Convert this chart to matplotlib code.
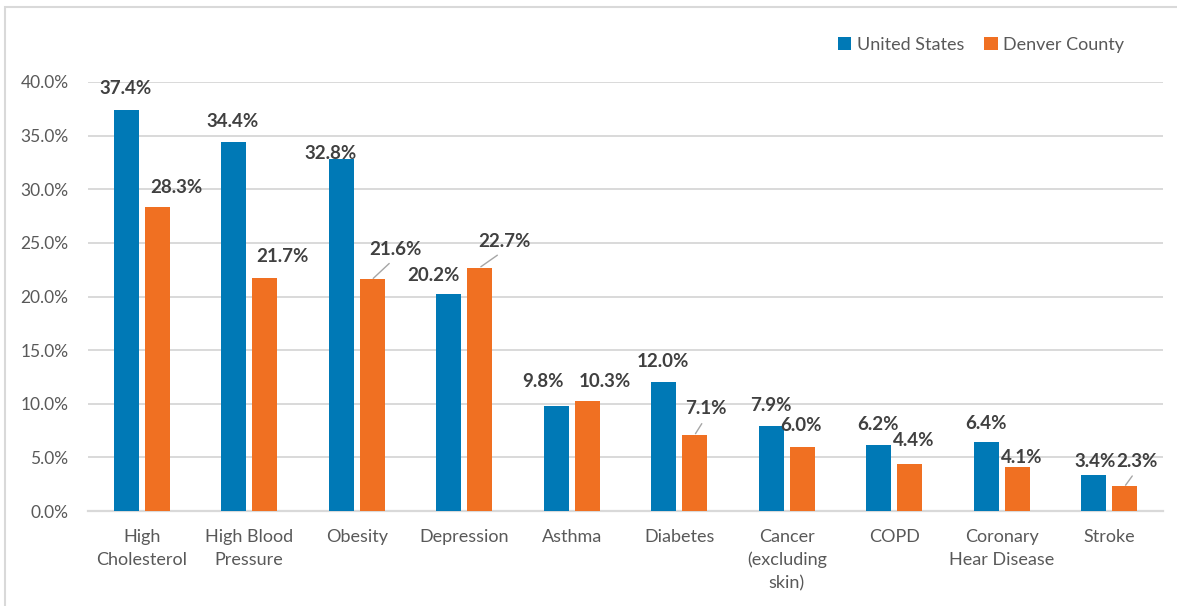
import matplotlib.pyplot as plt
from matplotlib.patches import Rectangle
import numpy as np

plt.rcParams['font.family'] = ['Lato', 'DejaVu Sans']

categories = ['High\nCholesterol', 'High Blood\nPressure', 'Obesity', 'Depression',
              'Asthma', 'Diabetes', 'Cancer\n(excluding\nskin)', 'COPD',
              'Coronary\nHear Disease', 'Stroke']
united_states = [37.4, 34.4, 32.8, 20.2, 9.8, 12.0, 7.9, 6.2, 6.4, 3.4]
denver_county = [28.3, 21.7, 21.6, 22.7, 10.3, 7.1, 6.0, 4.4, 4.1, 2.3]

blue = '#0079B6'
orange = '#F07022'
grid_col = '#D9D9D9'
tick_col = '#595959'
label_col = '#404040'

# label placement (pixel offsets from the top centre of each bar)
us_offsets = [(-1, 21), (-1, 21), (-11, 6), (-15, 19), (-13, 24),
              (-1, 21), (0, 21), (-1, 20), (0, 19), (1, 13)]
dc_offsets = [(19, 20), (18, 22), (23, 30), (25, 26), (18, 19),
              (11, 26), (-1, 21), (4, 23), (4, 10), (12, 25)]
dc_leader = [False, False, True, True, False, True, False, False, False, True]

W, H = 1177, 606
fig = plt.figure(figsize=(W / 100, H / 100), dpi=100)
ax = fig.add_axes([88 / W, (H - 511) / H, (1163 - 88) / W, (511 - 82) / H])

# thin frame round the chart area
fig.add_artist(Rectangle((5 / W, -0.05), 1.2, 1 - 7 / H + 0.05, transform=fig.transFigure,
                         fill=False, edgecolor='#D9D9D9', lw=1.5))

x = np.arange(len(categories))
bw = 0.233
off = 0.144
b1 = ax.bar(x - off, united_states, bw, color=blue, label='United States', zorder=3)
b2 = ax.bar(x + off, denver_county, bw, color=orange, label='Denver County', zorder=3)

ax.set_xlim(-0.5, len(categories) - 0.5)
ax.set_ylim(0, 40)
ax.set_yticks(np.arange(0, 41, 5))
ax.set_yticklabels([f'{v:.1f}%' for v in np.arange(0, 41, 5)])
ax.set_xticks(x)
ax.set_xticklabels(categories, linespacing=1.5)
ax.yaxis.grid(True, color=grid_col, lw=1.4, zorder=0)
ax.set_axisbelow(True)
for s in ['top', 'right', 'left']:
    ax.spines[s].set_visible(False)
ax.spines['bottom'].set_color(grid_col)
ax.spines['bottom'].set_linewidth(1.6)
ax.tick_params(axis='y', length=0, pad=14, labelsize=12.5, labelcolor=tick_col)
ax.tick_params(axis='x', length=0, pad=13, labelsize=13, labelcolor=tick_col)

for bars, vals, offs in [(b1, united_states, us_offsets), (b2, denver_county, dc_offsets)]:
    for i, (rect, v) in enumerate(zip(bars, vals)):
        cx = rect.get_x() + rect.get_width() / 2
        dx, dy = offs[i]
        leader = bars is b2 and dc_leader[i]
        ax.annotate(f'{v:.1f}%', xy=(cx, v), xytext=(dx, dy), textcoords='offset pixels',
                    ha='center', va='center', fontsize=13.5, fontweight='bold', color=label_col,
                    zorder=5,
                    arrowprops=dict(arrowstyle='-', color='#A6A6A6', lw=1, relpos=(0.5, 0),
                                    shrinkA=3, shrinkB=1) if leader else None)

leg = ax.legend(loc='center', bbox_to_anchor=(981 / W, 1 - 45 / H), bbox_transform=fig.transFigure,
                ncol=2, frameon=False, fontsize=13, handlelength=0.75, handleheight=0.75,
                handletextpad=0.3, columnspacing=1.1)
for t in leg.get_texts():
    t.set_color(tick_col)

fig.savefig('out.png', dpi=100)
